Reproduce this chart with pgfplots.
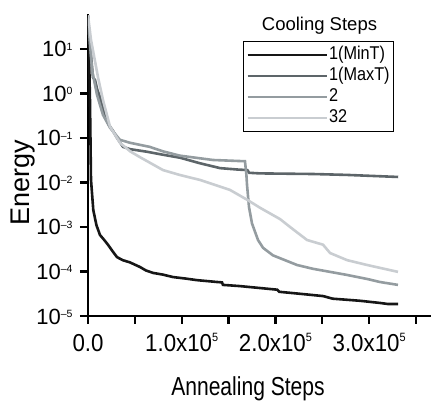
\documentclass[border=0pt]{standalone}
\usepackage{pgfplots}
\pgfplotsset{compat=1.18}
\usepackage{fontspec}
\setmainfont{Liberation Sans}
\newfontfamily\fxtick{Liberation Sans}[FakeStretch=0.91]
\newfontfamily\fleg{Liberation Sans}[FakeStretch=0.88]
\newfontfamily\fxlab{Liberation Sans}[FakeStretch=0.81]
\newcommand{\xsp}[1]{\raisebox{10pt}{\fontsize{12}{12}\selectfont #1}}
\newcommand{\ysp}[1]{\raisebox{6.5pt}{\fontsize{10.5}{11}\selectfont #1}}
\definecolor{cMin}{HTML}{161616}
\definecolor{cMax}{HTML}{5D6569}
\definecolor{cTwo}{HTML}{949CA0}
\definecolor{cTT}{HTML}{C9CDD1}
\begin{document}
\begin{tikzpicture}
\useasboundingbox (-88pt,-88pt) rectangle (343pt,316pt);
\begin{axis}[
  at={(0pt,0pt)}, anchor=south west,
  scale only axis, width=343pt, height=302pt,
  axis lines*=left,
  axis line style={line width=2.6pt, black},
  ymode=log,
  xmin=0, xmax=366000, ymin=1e-5, ymax=61,
  scaled x ticks=false,
  xtick={0,50000,100000,150000,200000,250000,300000,350000},
  xticklabels={0.0,,1.0x10\xsp{5},,2.0x10\xsp{5},,3.0x10\xsp{5},},
  ytick={1e-5,1e-4,1e-3,1e-2,1e-1,1,10},
  yticklabels={10\ysp{–5},10\ysp{–4},10\ysp{–3},10\ysp{–2},10\ysp{–1},10\ysp{0},10\ysp{1}},
  minor tick num=0,
  yminorticks=false,
  tick align=outside,
  major tick length=8pt,
  tick style={line width=2.4pt, black},
  xticklabel style={font=\fxtick\fontsize{24.5}{25}\selectfont, anchor=base, yshift=-28pt},
  yticklabel style={font=\fontsize{22}{23}\selectfont, anchor=base east, yshift=-8pt, xshift=-4pt},
  legend style={at={(axis description cs:0.452,0.9106)}, anchor=north west,
    draw=black, line width=0.8pt, fill=white,
    font=\fleg\fontsize{18.5}{19}\selectfont, inner xsep=3pt, inner ysep=3pt,
    nodes={inner sep=1pt, text height=14pt, text depth=5pt}, row sep=0pt},
  legend cell align=left,
  legend image code/.code={\path (0pt,0pt) -- (79pt,0pt);\draw[#1, line width=2.6pt] (9pt,0pt) -- (72pt,0pt);},
  every axis plot/.append style={line width=2.6pt},
]
\addplot[cMin] coordinates {
(0,57) (1500,3) (2100,0.71) (3200,0.0115) (5650,0.0024) (9000,0.0011)
(12800,6.6e-4) (17000,5.2e-4) (21300,4.0e-4) (26000,2.9e-4) (31000,2.1e-4)
(37000,1.8e-4) (44800,1.6e-4) (55500,1.26e-4) (62000,1.05e-4) (69400,9.3e-5)
(80000,8.5e-5) (90700,7.5e-5) (105000,6.9e-5) (116000,6.4e-5) (138000,5.8e-5)
(143000,5.7e-5) (144000,5.0e-5) (162000,4.7e-5) (202000,3.9e-5) (204000,3.5e-5)
(230000,3.1e-5) (251000,2.8e-5) (261000,2.45e-5) (290000,2.2e-5) (312000,1.96e-5)
(320000,1.86e-5) (331000,1.86e-5)
};
\addlegendentry{1(MinT)}
\addplot[cMax] coordinates {
(0,45) (3000,8) (5300,2.3) (7500,2.0) (10000,1.2) (12800,0.83) (15500,0.5)
(18100,0.30) (22000,0.2) (26700,0.144) (31000,0.1) (37400,0.063) (45000,0.056)
(63000,0.049) (80000,0.042) (98200,0.036) (119500,0.027) (141000,0.021)
(160000,0.0195) (170000,0.019) (172000,0.0165) (183600,0.016) (240000,0.0155)
(276000,0.0148) (331000,0.0133)
};
\addlegendentry{1(MaxT)}
\addplot[cTwo] coordinates {
(0,50) (4300,3.4) (9600,0.93) (16000,0.33) (23500,0.17) (34000,0.091)
(44800,0.078) (66000,0.063) (80000,0.05) (98200,0.040) (133400,0.032)
(167500,0.030) (169000,0.015) (169700,0.0087) (171800,0.0028) (175000,0.0012)
(181400,5.1e-4) (186800,3.4e-4) (197400,2.3e-4) (223000,1.4e-4) (240000,1.15e-4)
(276000,8.4e-5) (297800,6.8e-5) (311600,5.8e-5) (330800,5.0e-5)
};
\addlegendentry{2}
\addplot[cTT] coordinates {
(0,57) (3200,16) (10700,2.3) (16000,0.71) (23500,0.18) (34100,0.078)
(45000,0.05) (55500,0.037) (80000,0.019) (98200,0.0147) (119500,0.0114)
(151500,0.0068) (169700,0.0041) (183600,0.0027) (205000,0.0015) (215600,0.0010)
(233700,5.1e-4) (250800,4.0e-4) (258300,2.6e-4) (276400,1.8e-4) (297800,1.4e-4)
(330800,9.8e-5)
};
\addlegendentry{32}
\end{axis}
\node[font=\fontsize{18.5}{19}\selectfont, anchor=base] at (231.5pt,285pt) {Cooling Steps};
\node[font=\fxlab\fontsize{26}{26}\selectfont, anchor=base] at (160pt,-80pt) {Annealing Steps};
\node[font=\fontsize{27}{27}\selectfont, anchor=base, rotate=90] at (-58pt,133pt) {Energy};
\end{tikzpicture}
\end{document}
